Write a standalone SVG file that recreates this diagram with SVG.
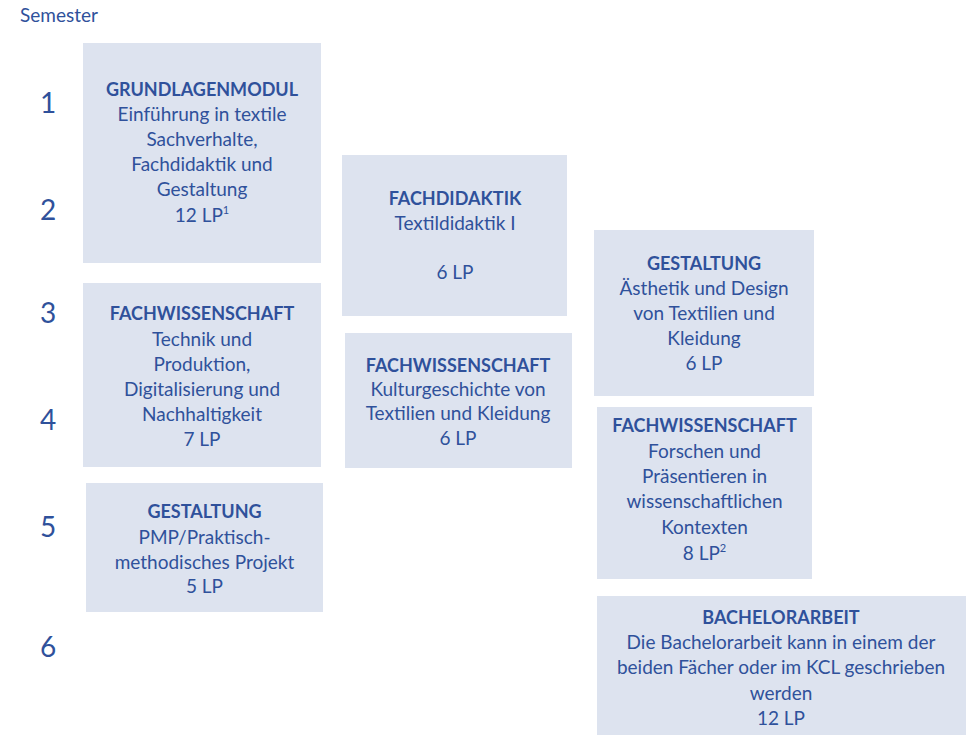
<svg xmlns="http://www.w3.org/2000/svg" width="972" height="735" viewBox="0 0 972 735">
<style>
.box{fill:#dde3ef}
.t{font-family:Lato,"Liberation Sans",sans-serif;font-size:19px;fill:#2f519b;text-anchor:middle}
.b{font-weight:bold;font-size:18px}
.num{font-family:Lato,"Liberation Sans",sans-serif;font-size:28px;fill:#2f519b;text-anchor:middle}
.sem{font-family:Lato,"Liberation Sans",sans-serif;font-size:19px;fill:#2f519b}
.sup{font-size:11px}
</style>
<rect width="972" height="735" fill="#ffffff"/>
<g id="labels">
<text class="sem" x="20" y="22">Semester</text>
<text class="num" x="48" y="113">1</text>
<text class="num" x="48" y="220">2</text>
<text class="num" x="48" y="323">3</text>
<text class="num" x="48" y="430">4</text>
<text class="num" x="48" y="537">5</text>
<text class="num" x="48" y="657">6</text>
</g>
<g id="grundlagenmodul">
<rect class="box" x="83" y="43" width="238" height="220"/>
<text class="t b" x="202" y="96">GRUNDLAGENMODUL</text>
<text class="t" x="202" y="121">Einführung in textile</text>
<text class="t" x="202" y="146">Sachverhalte,</text>
<text class="t" x="202" y="171">Fachdidaktik und</text>
<text class="t" x="202" y="196">Gestaltung</text>
<text class="t" x="202" y="222">12 LP<tspan class="sup" dy="-8">1</tspan></text>
</g>
<g id="fachwissenschaft1">
<rect class="box" x="83" y="283" width="238" height="184"/>
<text class="t b" x="202" y="320">FACHWISSENSCHAFT</text>
<text class="t" x="202" y="346">Technik und</text>
<text class="t" x="202" y="371">Produktion,</text>
<text class="t" x="202" y="396">Digitalisierung und</text>
<text class="t" x="202" y="421">Nachhaltigkeit</text>
<text class="t" x="202" y="446">7 LP</text>
</g>
<g id="gestaltung1">
<rect class="box" x="86" y="483" width="237" height="129"/>
<text class="t b" x="204.5" y="518">GESTALTUNG</text>
<text class="t" x="204.5" y="544">PMP/Praktisch-</text>
<text class="t" x="204.5" y="569">methodisches Projekt</text>
<text class="t" x="204.5" y="593">5 LP</text>
</g>
<g id="fachdidaktik">
<rect class="box" x="342" y="155" width="225" height="161"/>
<text class="t b" x="455" y="205">FACHDIDAKTIK</text>
<text class="t" x="455" y="230">Textildidaktik I</text>
<text class="t" x="455" y="279">6 LP</text>
</g>
<g id="fachwissenschaft2">
<rect class="box" x="345" y="333" width="227" height="135"/>
<text class="t b" x="458" y="372">FACHWISSENSCHAFT</text>
<text class="t" x="458" y="396">Kulturgeschichte von</text>
<text class="t" x="458" y="420">Textilien und Kleidung</text>
<text class="t" x="458" y="445">6 LP</text>
</g>
<g id="gestaltung2">
<rect class="box" x="594" y="230" width="220" height="166"/>
<text class="t b" x="704" y="270">GESTALTUNG</text>
<text class="t" x="704" y="295">Ästhetik und Design</text>
<text class="t" x="704" y="320">von Textilien und</text>
<text class="t" x="704" y="345">Kleidung</text>
<text class="t" x="704" y="370">6 LP</text>
</g>
<g id="fachwissenschaft3">
<rect class="box" x="597" y="407" width="215" height="172"/>
<text class="t b" x="704.5" y="432">FACHWISSENSCHAFT</text>
<text class="t" x="704.5" y="458">Forschen und</text>
<text class="t" x="704.5" y="483">Präsentieren in</text>
<text class="t" x="704.5" y="508">wissenschaftlichen</text>
<text class="t" x="704.5" y="534">Kontexten</text>
<text class="t" x="704.5" y="560">8 LP<tspan class="sup" dy="-8">2</tspan></text>
</g>
<g id="bachelorarbeit">
<rect class="box" x="597" y="596" width="369" height="139"/>
<text class="t b" x="781" y="624">BACHELORARBEIT</text>
<text class="t" x="781" y="649">Die Bachelorarbeit kann in einem der</text>
<text class="t" x="781" y="674">beiden Fächer oder im KCL geschrieben</text>
<text class="t" x="781" y="700">werden</text>
<text class="t" x="781" y="725">12 LP</text>
</g>
<g id="connectors"></g>
</svg>
